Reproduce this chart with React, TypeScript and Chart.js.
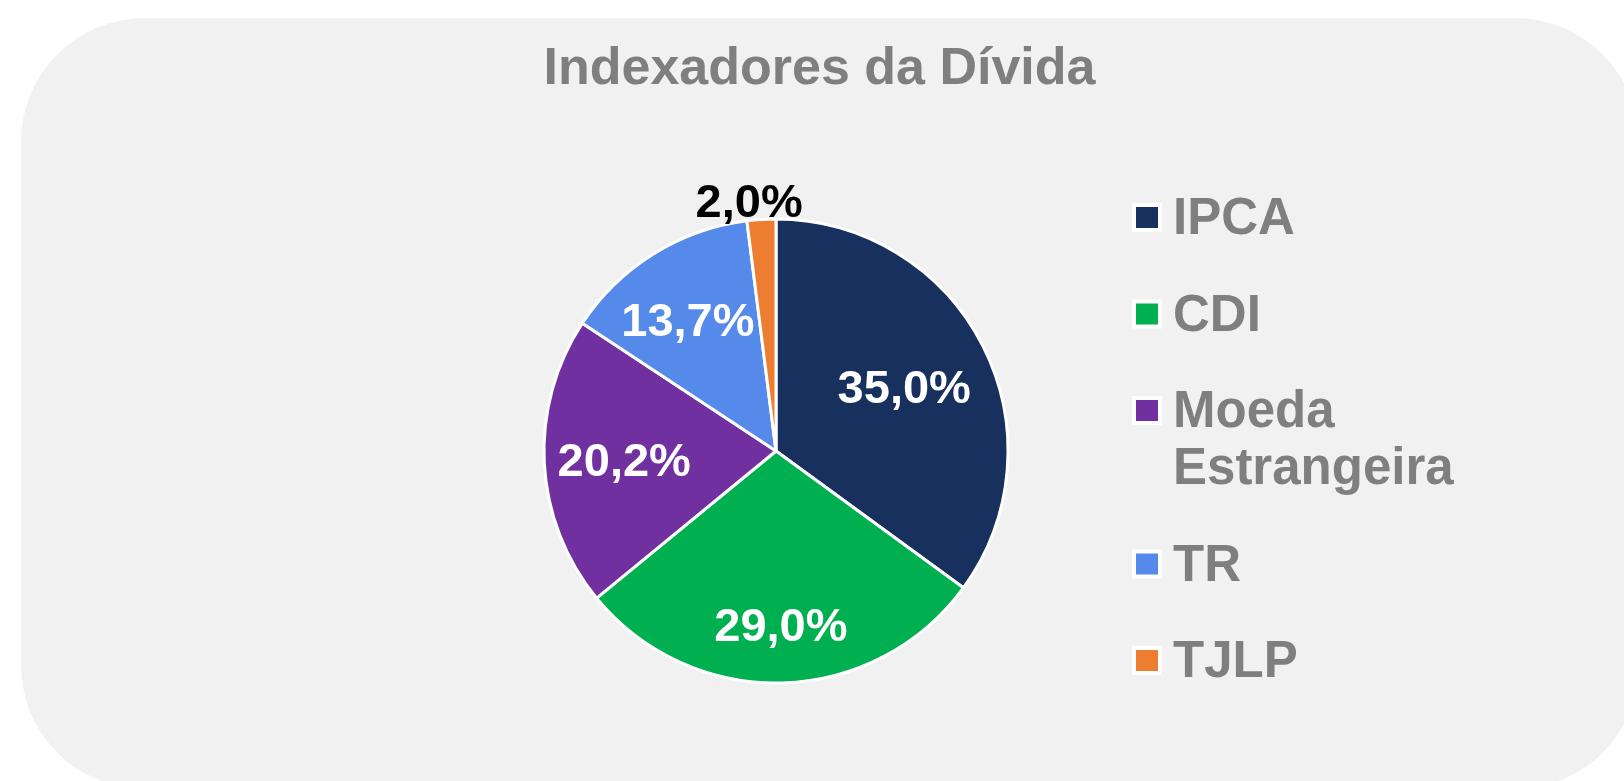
import React, { useEffect, useRef } from "react";
import { Chart, registerables } from "chart.js";

Chart.register(...registerables);

const titleText = "Indexadores da Dívida";
const categories = ["IPCA", "CDI", "Moeda Estrangeira", "TR", "TJLP"];
const legendLines = [["IPCA"], ["CDI"], ["Moeda", "Estrangeira"], ["TR"], ["TJLP"]];
const shareValues = [35.0, 29.0, 20.2, 13.7, 2.0];
const sliceColors = ["#17305E", "#00B050", "#7030A0", "#558AEA", "#ED7D31"];
const labelColors = ["#FFFFFF", "#FFFFFF", "#FFFFFF", "#FFFFFF", "#000000"];

const FONT = '"Liberation Sans", Arial, sans-serif';
const GRAY = "#7F7F7F";

const decorPlugin = {
  id: "decor",
  afterDatasetsDraw(chart: any) {
    const ctx = chart.ctx;
    const meta = chart.getDatasetMeta(0);
    const ds = chart.data.datasets[0];
    // data label placement (radial fraction and small horizontal nudge)
    const radial = [0.62, 0.745, 0.655, 0.67, 1.085];
    const nudgeX = [0, 0, 0, -6, -11];
    ctx.save();
    ctx.font = `bold 47px ${FONT}`;
    ctx.textAlign = "center";
    ctx.textBaseline = "alphabetic";
    meta.data.forEach((arc: any, i: number) => {
      const { x, y, startAngle, endAngle, outerRadius } = arc.getProps(
        ["x", "y", "startAngle", "endAngle", "outerRadius"],
        true
      );
      const mid = (startAngle + endAngle) / 2;
      const r = outerRadius * radial[i];
      const lx = x + Math.cos(mid) * r + nudgeX[i];
      const ly = y + Math.sin(mid) * r;
      const v = ds.data[i] as number;
      const txt = v.toFixed(1).replace(".", ",") + "%";
      ctx.fillStyle = labelColors[i];
      ctx.fillText(txt, lx, ly + 17);
    });
    ctx.restore();
  },
  afterDraw(chart: any) {
    const ctx = chart.ctx;
    ctx.save();
    // title
    ctx.font = `bold 52px ${FONT}`;
    ctx.fillStyle = GRAY;
    ctx.textAlign = "center";
    ctx.textBaseline = "alphabetic";
    ctx.fillText(titleText, 819.5, 83.5);
    // legend
    const colors = chart.data.datasets[0].backgroundColor as string[];
    ctx.font = `bold 51px ${FONT}`;
    ctx.textAlign = "left";
    let baseline = 234;
    legendLines.forEach((lines, i) => {
      const cy = baseline - 16.5;
      ctx.fillStyle = "#FFFFFF";
      ctx.fillRect(1132, cy - 14.5, 30, 29);
      ctx.fillStyle = colors[i];
      ctx.fillRect(1136, cy - 10.5, 22, 21);
      ctx.fillStyle = GRAY;
      lines.forEach((ln, j) => {
        ctx.fillText(ln, 1173, baseline + j * 57);
      });
      baseline += (lines.length - 1) * 57 + 96.5;
    });
    ctx.restore();
  },
};

export default function App() {
  const ref = useRef<HTMLCanvasElement | null>(null);
  useEffect(() => {
    if (!ref.current) return;
    const chart = new Chart(ref.current, {
      type: "pie",
      data: {
        labels: categories,
        datasets: [
          {
            data: shareValues,
            backgroundColor: sliceColors,
            borderColor: "#FFFFFF",
            borderWidth: 3,
          },
        ],
      },
      options: {
        animation: false,
        responsive: false,
        devicePixelRatio: 1,
        radius: 232,
        layout: { padding: { left: 0, right: 72, top: 121, bottom: 0 } },
        plugins: {
          legend: { display: false },
          title: { display: false },
          tooltip: { enabled: false },
        },
      } as any,
      plugins: [decorPlugin],
    });
    return () => chart.destroy();
  }, []);

  return (
    <div
      style={{
        position: "fixed",
        left: 0,
        top: 0,
        width: 1624,
        height: 781,
        overflow: "hidden",
        background: "#FFFFFF",
      }}
    >
      <div
        style={{
          position: "absolute",
          left: 21,
          top: 18,
          width: 1618,
          height: 771,
          borderRadius: 124,
          background: "#F1F1F1",
        }}
      />
      <canvas
        ref={ref}
        width={1624}
        height={781}
        style={{ position: "absolute", left: 0, top: 0, width: 1624, height: 781 }}
      />
    </div>
  );
}
